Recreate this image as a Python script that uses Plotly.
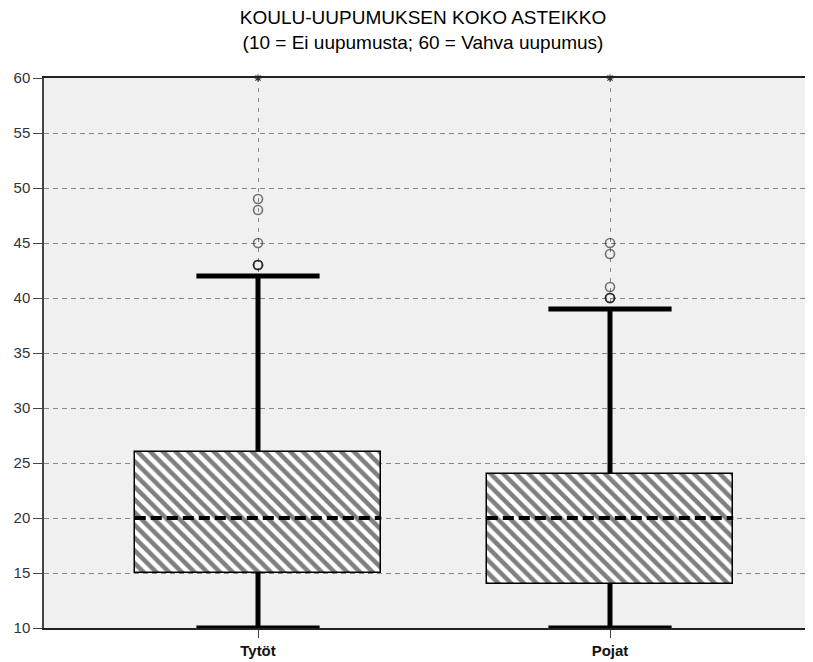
import plotly.graph_objects as go

categories = ["Tytöt", "Pojat"]
q1 = [15, 14]
median = [20, 20]
q3 = [26, 24]
lower_whisker = [10, 10]
upper_whisker = [42, 39]
outliers = [[43, 43, 43, 45, 48, 49], [40, 40, 40, 41, 44, 45]]
extremes = [[60], [60]]
y_ticks = [10, 15, 20, 25, 30, 35, 40, 45, 50, 55, 60]
title_text = "KOULU-UUPUMUKSEN KOKO ASTEIKKO<br>(10 = Ei uupumusta; 60 = Vahva uupumus)"

xpos = list(range(len(categories)))
box_w = 0.7
cap_w = 0.35

fig = go.Figure()

fig.add_trace(go.Bar(
    x=xpos, base=q1, y=[a - b for a, b in zip(q3, q1)], width=box_w,
    marker=dict(color="white", line=dict(color="black", width=1.5),
                pattern=dict(shape="\\", fgcolor="black", bgcolor="white", size=9, solidity=0.5)),
    hoverinfo="skip", showlegend=False))

for i, x in enumerate(xpos):
    fig.add_trace(go.Scatter(x=[x, x], y=[q3[i], upper_whisker[i]], mode="lines",
                             line=dict(color="black", width=5), showlegend=False, hoverinfo="skip"))
    fig.add_trace(go.Scatter(x=[x, x], y=[lower_whisker[i], q1[i]], mode="lines",
                             line=dict(color="black", width=5), showlegend=False, hoverinfo="skip"))
    for v in (upper_whisker[i], lower_whisker[i]):
        fig.add_trace(go.Scatter(x=[x - cap_w / 2, x + cap_w / 2], y=[v, v], mode="lines",
                                 line=dict(color="black", width=5), showlegend=False, hoverinfo="skip",
                                 cliponaxis=False))
    fig.add_trace(go.Scatter(x=[x - box_w / 2, x + box_w / 2], y=[median[i], median[i]], mode="lines",
                             line=dict(color="black", width=4, dash="11px,5px"), showlegend=False, hoverinfo="skip"))
    fig.add_trace(go.Scatter(x=[x] * len(outliers[i]), y=outliers[i], mode="markers",
                             marker=dict(symbol="circle-open", size=9, color="rgba(30,30,30,0.6)",
                                         line=dict(width=1.6)),
                             showlegend=False))
    fig.add_trace(go.Scatter(x=[x] * len(extremes[i]), y=extremes[i], mode="markers",
                             marker=dict(symbol="asterisk-open", size=6, color="#333",
                                         line=dict(width=1.2)),
                             showlegend=False, cliponaxis=False))

# page is offset 8px by body margin; margins compensate
fig.update_layout(
    width=813, height=662,
    margin=dict(l=36, r=0, t=70, b=42),
    paper_bgcolor="white", plot_bgcolor="#F0F0F0",
    font=dict(family="Liberation Sans, Arial, sans-serif", color="#222", size=14),
    bargap=0,
    title=dict(text=title_text, x=415 / 813, xref="container", xanchor="center",
               y=1 - 16 / 662, yref="container", yanchor="top",
               font=dict(size=19, color="#000")),
)
fig.update_xaxes(
    range=[-214 / 352, 1 + 211 / 352], tickvals=xpos, ticktext=["<b>%s</b>" % c for c in categories],
    showgrid=True, gridcolor="#888", griddash="4px,6px", gridwidth=1,
    ticks="outside", ticklen=8, tickcolor="#444", tickfont=dict(size=15, color="#111"),
    showline=True, linecolor="#222", linewidth=1.5, mirror=True, zeroline=False, fixedrange=True)
fig.update_yaxes(
    range=[10, 60], tickvals=y_ticks, showgrid=True, gridcolor="#888", griddash="5px,4px", gridwidth=1,
    ticks="outside", ticklen=9, tickcolor="#444", tickfont=dict(size=15, color="#333"),
    showline=True, linecolor="#444", linewidth=1.5, zeroline=False, fixedrange=True)

fig.write_html("out.html")
